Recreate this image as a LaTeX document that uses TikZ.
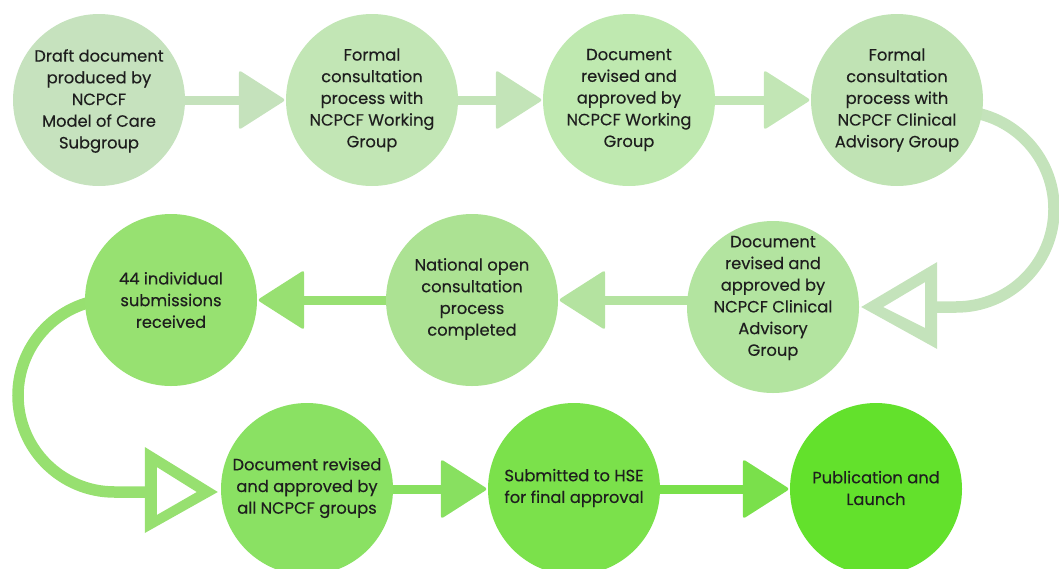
\documentclass[tikz,border=0pt]{standalone}
\usepackage{fontspec}
\setmainfont{Poppins}[FakeBold=0.3]
\usetikzlibrary{calc,backgrounds}
\definecolor{cA}{HTML}{C6E2BE}
\definecolor{cB}{HTML}{C2E6B5}
\definecolor{cC}{HTML}{BFE9B0}
\definecolor{cD}{HTML}{C0E3B4}
\definecolor{cE}{HTML}{B3E4A0}
\definecolor{cF}{HTML}{ACE293}
\definecolor{cG}{HTML}{97E171}
\definecolor{cH}{HTML}{8AE163}
\definecolor{cI}{HTML}{7BE14B}
\definecolor{cJ}{HTML}{63E12C}
\definecolor{aA}{HTML}{C5E2BC}
\definecolor{aB}{HTML}{C3E4B8}
\definecolor{aC}{HTML}{C2E6B5}
\definecolor{aD}{HTML}{C4E3BB}
\definecolor{aE}{HTML}{B4E3A0}
\definecolor{aF}{HTML}{98E072}
\definecolor{aG}{HTML}{97E070}
\definecolor{aH}{HTML}{88E060}
\definecolor{aI}{HTML}{7AE04B}
\definecolor{txt}{HTML}{1E1E1E}
\tikzset{
  stepcircle/.style={circle, minimum size=172pt, inner sep=0pt, draw=none},
  steptext/.style={align=center, text=txt, font=\fontsize{16.3pt}{21.7pt}\selectfont, inner sep=0pt},
  conn/.style={line width=9pt},
  bigconn/.style={line width=11.5pt},
}
% right-pointing arrow: #1 colour, #2 from node, #3 to node
\newcommand\rflow[3]{%
  \draw[conn,#1] (#2.center) -- ($(#3.west)+(-40,0)$);
  \fill[#1, rounded corners=3pt] ($(#3.west)+(-47,-30)$) -- ($(#3.west)+(0,0)$) -- ($(#3.west)+(-47,30)$) -- cycle;
}
\newcommand\lflow[3]{%
  \draw[conn,#1] (#2.center |- #3.east) -- ($(#3.east)+(40,0)$);
  \fill[#1, rounded corners=3pt] ($(#3.east)+(47,-30)$) -- ($(#3.east)+(0,0)$) -- ($(#3.east)+(47,30)$) -- cycle;
}
\begin{document}
\begin{tikzpicture}[x=1pt,y=-1pt]
\useasboundingbox (0,0) rectangle (1059,568);
% circles
\node[stepcircle, fill=cA] (c1) at (99,100) {};
\node[stepcircle, fill=cB] (c2) at (372,100) {};
\node[stepcircle, fill=cC] (c3) at (629,100) {};
\node[stepcircle, fill=cD] (c4) at (897,100) {};
\node[stepcircle, fill=cE] (c5) at (773,307) {};
\node[stepcircle, fill=cF] (c6) at (472,300) {};
\node[stepcircle, fill=cG] (c7) at (171,300) {};
\node[stepcircle, fill=cH] (c8) at (307,489) {};
\node[stepcircle, fill=cI] (c9) at (574,489) {};
\node[stepcircle, fill=cJ] (c10) at (876,489) {};
% texts
\node[steptext] (t1) at (99,101) {Draft document\\produced by\\NCPCF\\Model of Care\\Subgroup};
\node[steptext] (t2) at (372,100) {Formal\\consultation\\process with\\NCPCF Working\\Group};
\node[steptext] (t3) at (629,100) {Document\\revised and\\approved by\\NCPCF Working\\Group};
\node[steptext] (t4) at (897,100) {Formal\\consultation\\process with\\NCPCF Clinical\\Advisory Group};
\node[steptext] (t5) at (773,298) {Document\\revised and\\approved by\\NCPCF Clinical\\Advisory\\Group};
\node[steptext] (t6) at (472,299) {National open\\consultation\\process\\completed};
\node[steptext] (t7) at (171,300) {44 individual\\submissions\\received};
\node[steptext] (t8) at (307,488) {Document revised\\and approved by\\all NCPCF groups};
\node[steptext] (t9) at (574,488) {Submitted to HSE\\for final approval};
\node[steptext] (t10) at (876,488) {Publication and\\Launch};
% connectors
\begin{pgfonlayer}{background}
\rflow{aA}{c1}{c2}
\rflow{aB}{c2}{c3}
\rflow{aC}{c3}{c4}
\lflow{aE}{c5}{c6}
\lflow{aF}{c6}{c7}
\rflow{aH}{c8}{c9}
\rflow{aI}{c9}{c10}
% right loop
\coordinate (rs) at (956,111);
\coordinate (rtip) at ($(c5.east)+(2,0)$);
\draw[bigconn, aD] (rs) arc[start angle=-90, end angle=90, radius=98] -- ($(rtip)+(76,0)$);
\fill[aD, even odd rule] ($(rtip)+(76,-45)$) -- (rtip) -- ($(rtip)+(76,42)$) -- cycle
  ($(rtip)+(64,-25)$) -- ($(rtip)+(22,0)$) -- ($(rtip)+(64,21)$) -- cycle;
% left loop
\coordinate (ls) at (114.5,299);
\coordinate (ltip) at ($(c8.west)+(-3,3)$);
\draw[bigconn, aG] (ls) arc[start angle=270, end angle=90, radius=96.5] -- ($(ltip)+(-73,0)$);
\fill[aG, even odd rule] ($(ltip)+(-73,-45)$) -- (ltip) -- ($(ltip)+(-73,41)$) -- cycle
  ($(ltip)+(-61,-25)$) -- ($(ltip)+(-21,0)$) -- ($(ltip)+(-61,23)$) -- cycle;
\end{pgfonlayer}
\end{tikzpicture}
\end{document}
